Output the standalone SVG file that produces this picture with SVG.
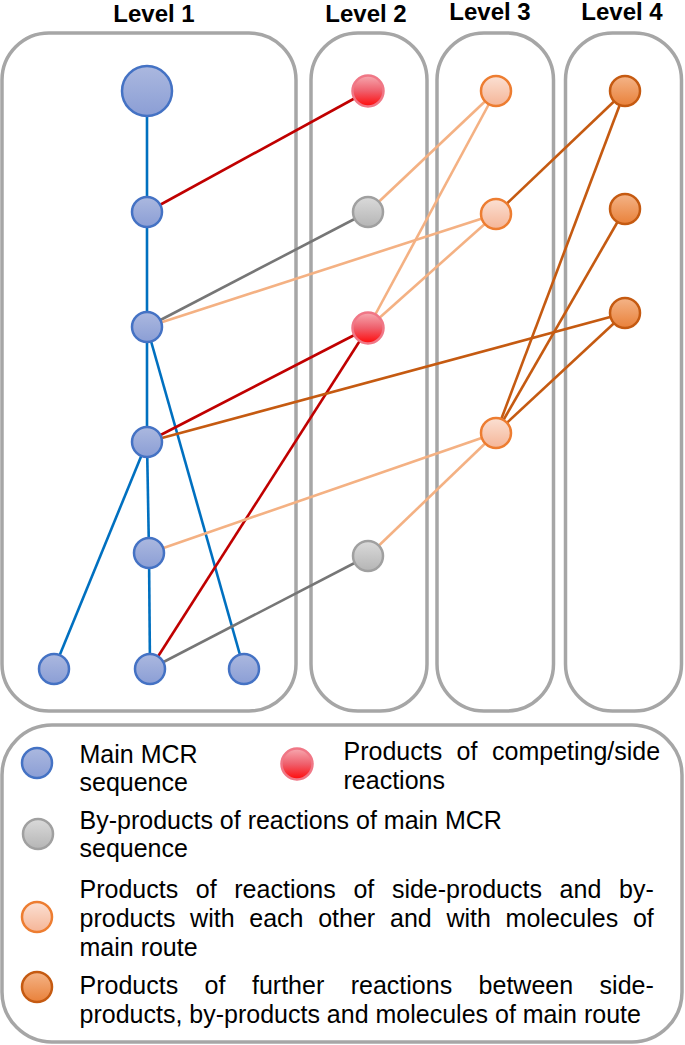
<svg xmlns="http://www.w3.org/2000/svg" width="685" height="1045" viewBox="0 0 685 1045">
<defs>
<linearGradient id="gBlue" x1="0" y1="0" x2="0" y2="1"><stop offset="0" stop-color="#abb8df"/><stop offset="1" stop-color="#8b9ed5"/></linearGradient>
<linearGradient id="gRed" x1="0" y1="0" x2="0" y2="1"><stop offset="0" stop-color="#f6a9b0"/><stop offset="0.5" stop-color="#ef5f6c"/><stop offset="1" stop-color="#ff0a0a"/></linearGradient>
<linearGradient id="gGray" x1="0" y1="0" x2="0" y2="1"><stop offset="0" stop-color="#dadada"/><stop offset="1" stop-color="#b5b5b5"/></linearGradient>
<linearGradient id="gLOr" x1="0" y1="0" x2="0" y2="1"><stop offset="0" stop-color="#fbe0d3"/><stop offset="1" stop-color="#f5b597"/></linearGradient>
<linearGradient id="gDOr" x1="0" y1="0" x2="0" y2="1"><stop offset="0" stop-color="#f4b488"/><stop offset="1" stop-color="#e9813a"/></linearGradient>
</defs>
<style>
.panel{fill:none;stroke:#a6a6a6;stroke-width:3.5}
.hdr{font-family:"Liberation Sans",Arial,sans-serif;font-weight:bold;font-size:24px;fill:#000;text-anchor:middle}
.lg{font-family:"Liberation Sans",Arial,sans-serif;font-size:25px;fill:#000}
.blue{fill:url(#gBlue);stroke:#4472c4;stroke-width:2.5}
.red{fill:url(#gRed);stroke:#f07786;stroke-width:2.5}
.gray{fill:url(#gGray);stroke:#a0a0a0;stroke-width:2.5}
.lor{fill:url(#gLOr);stroke:#ed7d31;stroke-width:2.5}
.dor{fill:url(#gDOr);stroke:#c55a11;stroke-width:2.5}
.c{fill:none;stroke-width:2.6}
.cb{stroke:#0070c0}.cr{stroke:#c00000}.cg{stroke:#767676}.cl{stroke:#f4b183}.cd{stroke:#c55a11}
</style>
<rect width="685" height="1045" fill="#fff"/>
<g id="panels">
<rect class="panel" x="2" y="33" width="294" height="678" rx="47"/>
<rect class="panel" x="311" y="33" width="116" height="678" rx="47"/>
<rect class="panel" x="437" y="33" width="116.5" height="678" rx="47"/>
<rect class="panel" x="565.5" y="33" width="116" height="678" rx="47"/>
<rect class="panel" x="2" y="725" width="680" height="317" rx="50"/>
</g>
<g id="headers">
<text class="hdr" x="154" y="22">Level 1</text>
<text class="hdr" x="366" y="21.5">Level 2</text>
<text class="hdr" x="490" y="20">Level 3</text>
<text class="hdr" x="622" y="20">Level 4</text>
</g>
<g id="connectors">
<line class="c cb" x1="147" y1="91" x2="147" y2="212"/>
<line class="c cb" x1="147" y1="212" x2="147" y2="327"/>
<line class="c cb" x1="147" y1="327" x2="147" y2="442"/>
<line class="c cb" x1="147" y1="442" x2="149" y2="553"/>
<line class="c cb" x1="149" y1="553" x2="150" y2="669"/>
<line class="c cb" x1="147" y1="327" x2="244" y2="669"/>
<line class="c cb" x1="147" y1="442" x2="54" y2="669"/>
<line class="c cr" x1="147" y1="212" x2="368" y2="91"/>
<line class="c cr" x1="147" y1="442" x2="368" y2="328"/>
<line class="c cr" x1="150" y1="669" x2="368" y2="328"/>
<line class="c cg" x1="147" y1="327" x2="368" y2="212"/>
<line class="c cg" x1="150" y1="669" x2="368" y2="556"/>
<line class="c cl" x1="368" y1="212" x2="496" y2="91"/>
<line class="c cl" x1="368" y1="328" x2="496" y2="91"/>
<line class="c cl" x1="368" y1="328" x2="496" y2="214"/>
<line class="c cl" x1="147" y1="327" x2="496" y2="214"/>
<line class="c cl" x1="149" y1="553" x2="496" y2="433"/>
<line class="c cl" x1="368" y1="556" x2="496" y2="433"/>
<line class="c cd" x1="496" y1="214" x2="625" y2="91"/>
<line class="c cd" x1="496" y1="433" x2="625" y2="91"/>
<line class="c cd" x1="496" y1="433" x2="625" y2="209"/>
<line class="c cd" x1="496" y1="433" x2="625" y2="313"/>
<line class="c cd" x1="147" y1="442" x2="625" y2="313"/>
</g>
<g id="n1a"><circle class="blue" cx="147" cy="91" r="25"/></g>
<g id="n1b"><circle class="blue" cx="147" cy="212" r="15"/></g>
<g id="n1c"><circle class="blue" cx="147" cy="327" r="15"/></g>
<g id="n1d"><circle class="blue" cx="147" cy="442" r="15"/></g>
<g id="n1e"><circle class="blue" cx="149" cy="553" r="15"/></g>
<g id="n1f"><circle class="blue" cx="54" cy="669" r="15"/></g>
<g id="n1g"><circle class="blue" cx="150" cy="669" r="15"/></g>
<g id="n1h"><circle class="blue" cx="244" cy="669" r="15"/></g>
<g id="n2a"><circle class="red" cx="368" cy="91" r="15.5"/></g>
<g id="n2b"><circle class="gray" cx="368" cy="212" r="15"/></g>
<g id="n2c"><circle class="red" cx="368" cy="328" r="15.5"/></g>
<g id="n2d"><circle class="gray" cx="368" cy="556" r="15"/></g>
<g id="n3a"><circle class="lor" cx="496" cy="91" r="15"/></g>
<g id="n3b"><circle class="lor" cx="496" cy="214" r="15"/></g>
<g id="n3c"><circle class="lor" cx="496" cy="433" r="15"/></g>
<g id="n4a"><circle class="dor" cx="625" cy="91" r="15"/></g>
<g id="n4b"><circle class="dor" cx="625" cy="209" r="15"/></g>
<g id="n4c"><circle class="dor" cx="625" cy="313" r="15"/></g>
<g id="legend">
<circle class="blue" cx="37" cy="763" r="15"/>
<text class="lg" x="79.5" y="763">Main MCR</text>
<text class="lg" x="79.5" y="791">sequence</text>
<circle class="red" cx="297" cy="764" r="15.5"/>
<text class="lg" y="760"><tspan x="343.5">Products</tspan><tspan x="456.5">of</tspan><tspan x="492">competing/side</tspan></text>
<text class="lg" x="343.5" y="789">reactions</text>
<circle class="gray" cx="38" cy="834" r="15"/>
<text class="lg" x="79.5" y="829">By-products of reactions of main MCR</text>
<text class="lg" x="79.5" y="857">sequence</text>
<circle class="lor" cx="37" cy="917" r="15"/>
<text class="lg" y="898"><tspan x="79.5">Products</tspan><tspan x="195.8">of</tspan><tspan x="234.3">reactions</tspan><tspan x="353.4">of</tspan><tspan x="391.9">side-products</tspan><tspan x="559.6">and</tspan><tspan x="619">by-</tspan></text>
<text class="lg" y="927"><tspan x="79.5">products</tspan><tspan x="190.1">with</tspan><tspan x="249.3">each</tspan><tspan x="318.2">other</tspan><tspan x="390">and</tspan><tspan x="446.4">with</tspan><tspan x="505.6">molecules</tspan><tspan x="632.9">of</tspan></text>
<text class="lg" x="79.5" y="956">main route</text>
<circle class="dor" cx="37" cy="987" r="15"/>
<text class="lg" y="994"><tspan x="79.5">Products</tspan><tspan x="204.6">of</tspan><tspan x="252">further</tspan><tspan x="350.7">reactions</tspan><tspan x="478.6">between</tspan><tspan x="599.6">side-</tspan></text>
<text class="lg" x="79.5" y="1023">products, by-products and molecules of main route</text>
</g>
</svg>
